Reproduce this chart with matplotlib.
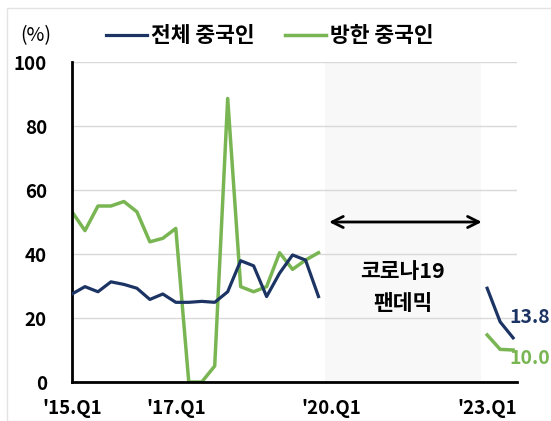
import numpy as np
import matplotlib
matplotlib.use('Agg')
import matplotlib.pyplot as plt
from matplotlib.patches import Rectangle

plt.rcParams['font.family'] = ['Noto Sans CJK KR', 'DejaVu Sans']

# quarterly share (%), 2015.Q1 ~ 2023.Q3, gap during the pandemic
nan = np.nan
total_cn = [27.5, 29.8, 28.2, 31.3, 30.5, 29.3, 25.8, 27.5, 24.9, 24.9,
            25.2, 24.9, 28.2, 37.9, 36.3, 26.7, 34.0, 39.7, 38.1, 26.7,
            nan, nan, nan, nan, nan, nan, nan, nan, nan, nan, nan, nan,
            29.3, 18.8, 13.8]
visit_cn = [53.2, 47.3, 55.0, 55.0, 56.4, 53.2, 43.8, 44.9, 48.0, 0.0,
            0.0, 5.0, 88.6, 29.8, 28.2, 29.8, 40.4, 35.2, 38.1, 40.4,
            nan, nan, nan, nan, nan, nan, nan, nan, nan, nan, nan, nan,
            14.7, 10.2, 10.0]
tick_pos = [0, 8, 20, 32]
tick_labels = ["'15.Q1", "'17.Q1", "'20.Q1", "'23.Q1"]
y_ticks = [0, 20, 40, 60, 80, 100]

navy = '#1c3464'
green = '#79b653'

fig = plt.figure(figsize=(5.51, 4.21), dpi=100)
ax = fig.add_axes([72 / 551, 1 - 382 / 421, (517 - 72) / 551, 320 / 421])

x = np.arange(len(total_cn))
ax.axvspan(19.5, 31.5, ymin=0, ymax=1, color='#f8f8f8', zorder=0, lw=0)
ax.plot(x, total_cn, color=navy, lw=2.3, label='전체 중국인', zorder=3)
ax.plot(x, visit_cn, color=green, lw=2.5, label='방한 중국인', zorder=2)

ax.set_xlim(0, 34.3)
ax.set_ylim(0, 100)
ax.set_yticks(y_ticks)
ax.set_yticklabels([str(v) for v in y_ticks], fontsize=13.5, fontweight='bold')
ax.set_xticks(tick_pos)
ax.set_xticklabels(tick_labels, fontsize=13.5, fontweight='bold')
ax.tick_params(axis='y', length=0, pad=18)
ax.tick_params(axis='x', length=0, pad=12)
ax.grid(axis='y', color='#d9d9d9', lw=1)
ax.set_axisbelow(True)
for s in ['top', 'right']:
    ax.spines[s].set_visible(False)
for s in ['left', 'bottom']:
    ax.spines[s].set_linewidth(2)
    ax.spines[s].set_color('black')

# pandemic span
ax.annotate('', xy=(19.6, 50), xytext=(31.8, 50),
            arrowprops=dict(arrowstyle='<->', color='black', lw=2,
                            mutation_scale=20))
ax.text(25.5, 34.5, '코로나19', ha='center', va='center', fontsize=15.5,
        fontweight='bold')
ax.text(25.5, 24.5, '팬데믹', ha='center', va='center', fontsize=15.5,
        fontweight='bold')

# last values
ax.text(33.7, total_cn[-1] + 6.5, f'{total_cn[-1]:.1f}', color=navy,
        fontsize=14, fontweight='bold', va='center', ha='left', clip_on=False)
ax.text(33.7, visit_cn[-1] - 2.5, f'{visit_cn[-1]:.1f}', color=green,
        fontsize=14, fontweight='bold', va='center', ha='left', clip_on=False)

fig.text(20 / 551, 1 - 36 / 421, '(%)', fontsize=14, va='center', ha='left')
fig.legend(loc='center', bbox_to_anchor=(270 / 551, 1 - 36 / 421), ncol=2,
           frameon=False, handlelength=1.9, handletextpad=0.2,
           columnspacing=1.4, prop={'size': 15.5, 'weight': 'bold'})

fig.add_artist(Rectangle((7 / 551, 0), 1, 1 - 8 / 421, transform=fig.transFigure,
                         fill=False, edgecolor='#e3e3e3', lw=1))

fig.savefig('out.png', dpi=100)
